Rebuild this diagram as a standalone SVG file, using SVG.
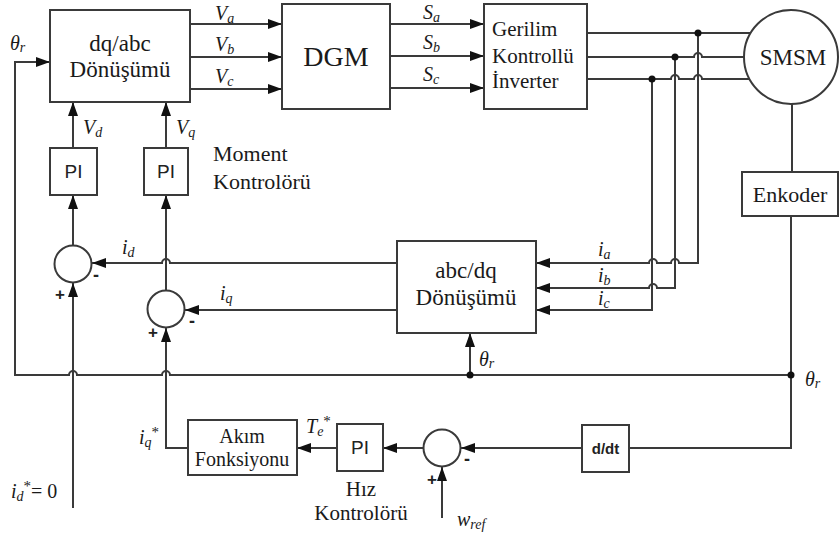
<svg xmlns="http://www.w3.org/2000/svg" width="839" height="536" viewBox="0 0 839 536">
<style>
.box{fill:#fff;stroke:#3a3a3a;stroke-width:2}
.ln{fill:none;stroke:#3a3a3a;stroke-width:2}
.ar{marker-end:url(#ah)}
.t{font-family:"Liberation Serif","Times New Roman",serif;fill:#1a1a1a}
.s{font-family:"Liberation Sans",Arial,sans-serif;fill:#222}
.it{font-family:"Liberation Serif","Times New Roman",serif;font-style:italic;fill:#1a1a1a;font-size:20px}
.sub{font-size:14px}
.dot{fill:#111}
</style>
<defs>
<marker id="ah" markerUnits="userSpaceOnUse" markerWidth="15" markerHeight="11" refX="14" refY="5" orient="auto">
<path d="M0,0 L14,5 L0,10 z" fill="#111"/>
</marker>
</defs>
<rect width="839" height="536" fill="#fff"/>

<g id="connectors">
<!-- dq/abc to DGM -->
<path class="ln ar" d="M190,24 H282"/>
<path class="ln ar" d="M190,57 H282"/>
<path class="ln ar" d="M190,89 H282"/>
<!-- DGM to inverter -->
<path class="ln ar" d="M390,24 H484"/>
<path class="ln ar" d="M390,56 H484"/>
<path class="ln ar" d="M390,88 H484"/>
<!-- inverter to motor -->
<path class="ln" d="M587,33 H750"/>
<path class="ln" d="M587,57 H694 A4 4 0 0 1 702,57 H744"/>
<path class="ln" d="M587,79 H671 A4 4 0 0 1 679,79 H694 A4 4 0 0 1 702,79 H749"/>
<!-- current measurements -->
<path class="ln ar" d="M698,33 V263 H679 A4 4 0 0 0 671,263 H657 A4 4 0 0 0 649,263 H536"/>
<path class="ln ar" d="M675,57 V288 H657 A4 4 0 0 0 649,288 H536"/>
<path class="ln ar" d="M652,79 V310 H536"/>
<!-- id, iq feedback -->
<path class="ln ar" d="M397,263 H170 A4 4 0 0 0 162,263 H92"/>
<path class="ln ar" d="M397,310 H185"/>
<!-- sum to PI to dq/abc -->
<path class="ln ar" d="M73,245 V195"/>
<path class="ln ar" d="M73,148 V102"/>
<path class="ln ar" d="M166,290 V195"/>
<path class="ln ar" d="M166,148 V102"/>
<!-- references -->
<path class="ln ar" d="M73,508 V283"/>
<path class="ln ar" d="M188,448 H166 V328"/>
<!-- motor to encoder -->
<path class="ln" d="M792,104 V172"/>
<path class="ln" d="M791,216 V448 H629"/>
<!-- theta bus -->
<path class="ln ar" d="M791,375 H170 A4 4 0 0 0 162,375 H77 A4 4 0 0 0 69,375 H15 V62 H50"/>
<path class="ln ar" d="M470,375 V333"/>
<!-- speed loop -->
<path class="ln ar" d="M582,448 H461"/>
<path class="ln ar" d="M423,448 H383"/>
<path class="ln ar" d="M337,448 H297"/>
<path class="ln ar" d="M442,518 V467"/>
<circle class="dot" cx="698" cy="33" r="3.5"/>
<circle class="dot" cx="675" cy="57" r="3.5"/>
<circle class="dot" cx="652" cy="79" r="3.5"/>
<circle class="dot" cx="470" cy="375" r="3.5"/>
<circle class="dot" cx="791" cy="375" r="3.5"/>
</g>

<g id="dqabc">
<rect class="box" x="50" y="10" width="140" height="92"/>
<text class="t" x="120" y="51" font-size="23" text-anchor="middle">dq/abc</text>
<text class="t" x="120" y="77" font-size="23" text-anchor="middle">Dönüşümü</text>
</g>
<g id="dgm">
<rect class="box" x="282" y="4" width="108" height="105"/>
<text class="t" x="336" y="66" font-size="28" text-anchor="middle">DGM</text>
</g>
<g id="inverter">
<rect class="box" x="484" y="4" width="103" height="105"/>
<text class="t" x="492" y="36" font-size="21">Gerilim</text>
<text class="t" x="492" y="63" font-size="21">Kontrollü</text>
<text class="t" x="492" y="88" font-size="21">İnverter</text>
</g>
<g id="smsm">
<circle class="box" cx="791" cy="57" r="47"/>
<text class="t" x="793" y="65" font-size="23" text-anchor="middle">SMSM</text>
</g>
<g id="enkoder">
<rect class="box" x="742" y="172" width="96" height="44"/>
<text class="t" x="790" y="202" font-size="22" text-anchor="middle">Enkoder</text>
</g>
<g id="pi_d">
<rect class="box" x="50" y="148" width="47" height="47"/>
<text class="s" x="73.5" y="178" font-size="19" text-anchor="middle">PI</text>
</g>
<g id="pi_q">
<rect class="box" x="144" y="148" width="44" height="47"/>
<text class="s" x="166" y="178" font-size="19" text-anchor="middle">PI</text>
</g>
<g id="sum_d">
<circle class="box" cx="73" cy="264" r="18.5"/>
<text class="s" x="96" y="281" font-size="18" font-weight="bold" text-anchor="middle">-</text>
<text class="s" x="60" y="300" font-size="17" font-weight="bold" text-anchor="middle">+</text>
</g>
<g id="sum_q">
<circle class="box" cx="166" cy="309" r="18.5"/>
<text class="s" x="192" y="327" font-size="18" font-weight="bold" text-anchor="middle">-</text>
<text class="s" x="153" y="338" font-size="17" font-weight="bold" text-anchor="middle">+</text>
</g>
<g id="abcdq">
<rect class="box" x="397" y="241" width="139" height="92"/>
<text class="t" x="466" y="278" font-size="23" text-anchor="middle">abc/dq</text>
<text class="t" x="466" y="305" font-size="23" text-anchor="middle">Dönüşümü</text>
</g>
<g id="akim">
<rect class="box" x="188" y="420" width="109" height="55"/>
<text class="t" x="242" y="443" font-size="20" text-anchor="middle">Akım</text>
<text class="t" x="242" y="466" font-size="20" text-anchor="middle">Fonksiyonu</text>
</g>
<g id="pi_w">
<rect class="box" x="337" y="424" width="46" height="47"/>
<text class="s" x="360" y="454" font-size="19" text-anchor="middle">PI</text>
</g>
<g id="sum_w">
<circle class="box" cx="442" cy="448" r="18.5"/>
<text class="s" x="467" y="465" font-size="18" font-weight="bold" text-anchor="middle">-</text>
<text class="s" x="432" y="485" font-size="17" font-weight="bold" text-anchor="middle">+</text>
</g>
<g id="ddt">
<rect class="box" x="582" y="425" width="47" height="47"/>
<text class="s" x="605.5" y="454" font-size="15" font-weight="bold" text-anchor="middle">d/dt</text>
</g>

<g id="labels">
<text class="it" x="215" y="20">V<tspan class="sub" dy="3">a</tspan></text>
<text class="it" x="215" y="51">V<tspan class="sub" dy="3">b</tspan></text>
<text class="it" x="215" y="83">V<tspan class="sub" dy="3">c</tspan></text>
<text class="it" x="423" y="19">S<tspan class="sub" dy="3">a</tspan></text>
<text class="it" x="423" y="49">S<tspan class="sub" dy="3">b</tspan></text>
<text class="it" x="423" y="81">S<tspan class="sub" dy="3">c</tspan></text>
<text class="it" x="10" y="50">θ<tspan class="sub" dy="2">r</tspan></text>
<text class="it" x="83" y="134">V<tspan class="sub" dy="3">d</tspan></text>
<text class="it" x="176" y="134">V<tspan class="sub" dy="3">q</tspan></text>
<text class="t" x="213" y="161" font-size="22">Moment</text>
<text class="t" x="213" y="189" font-size="22">Kontrolörü</text>
<text class="it" x="122" y="254">i<tspan class="sub" dy="3">d</tspan></text>
<text class="it" x="220" y="300">i<tspan class="sub" dy="3">q</tspan></text>
<text class="it" x="598" y="256">i<tspan class="sub" dy="3">a</tspan></text>
<text class="it" x="598" y="282">i<tspan class="sub" dy="3">b</tspan></text>
<text class="it" x="598" y="305">i<tspan class="sub" dy="3">c</tspan></text>
<text class="it" x="479" y="366">θ<tspan class="sub" dy="2">r</tspan></text>
<text class="it" x="805" y="386">θ<tspan class="sub" dy="2">r</tspan></text>
<text class="it" x="139" y="444">i<tspan class="sub" dy="3">q</tspan><tspan dy="-10" font-size="15" font-style="normal">*</tspan></text>
<text class="it" x="306" y="433">T<tspan class="sub" dy="3">e</tspan><tspan dy="-10" font-size="15" font-style="normal">*</tspan></text>
<text class="it" x="11" y="498">i<tspan class="sub" dy="3">d</tspan><tspan dy="-10" font-size="15" font-style="normal">*</tspan><tspan dy="7" font-style="normal">= 0</tspan></text>
<text class="t" x="361" y="496" font-size="21" text-anchor="middle">Hız</text>
<text class="t" x="361" y="520" font-size="21" text-anchor="middle">Kontrolörü</text>
<text class="it" x="457" y="526">w<tspan class="sub" dy="3">ref</tspan></text>
</g>
</svg>
